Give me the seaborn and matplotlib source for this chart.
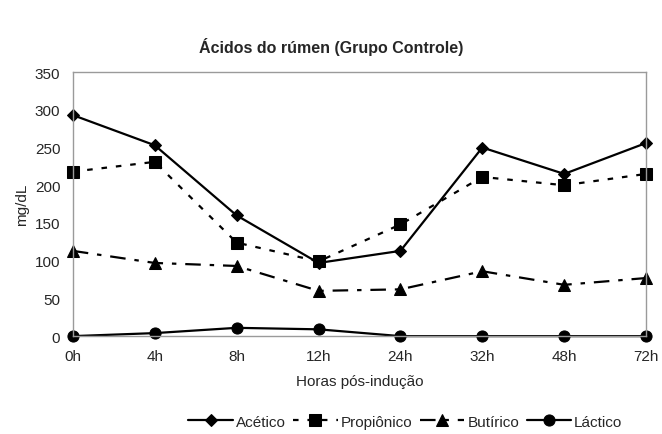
"""
Ácidos do rúmen (Grupo Controle)
"""
import pandas as pd
import matplotlib
matplotlib.use("Agg")
import matplotlib.pyplot as plt
import seaborn as sns

horas = ['0h', '4h', '8h', '12h', '24h', '32h', '48h', '72h']
acetico = [293, 253, 160, 97, 113, 250, 215, 256]
propionico = [218, 231, 124, 99, 148, 211, 200, 215]
butirico = [113, 97, 93, 60, 62, 86, 68, 77]
lactico = [0, 4, 11, 9, 0, 0, 0, 0]

series = {
    'Acético': acetico,
    'Propiônico': propionico,
    'Butírico': butirico,
    'Láctico': lactico,
}

# long format for seaborn
rows = []
for nome, vals in series.items():
    for i, (h, v) in enumerate(zip(horas, vals)):
        rows.append({'pos': i, 'hora': h, 'acido': nome, 'valor': v})
df = pd.DataFrame(rows)

sns.set_style("white")
plt.rcParams['font.family'] = ['Liberation Sans', 'DejaVu Sans']

estilos = {
    'Acético': dict(marker='D', markersize=6, dashes=None),
    'Propiônico': dict(marker='s', markersize=8, dashes=(0, (2.5, 4))),
    'Butírico': dict(marker='^', markersize=8, dashes=(0, (7, 4, 2, 4))),
    'Láctico': dict(marker='o', markersize=8, dashes=None),
}

fig = plt.figure(figsize=(6.62, 4.35), dpi=100)
ax = fig.add_axes([0.110, 0.225, 0.866, 0.607])

for nome in series:
    sub = df[df['acido'] == nome]
    st = estilos[nome]
    ls = '-' if st['dashes'] is None else st['dashes']
    sns.lineplot(data=sub, x='pos', y='valor', ax=ax, color='black',
                 linewidth=1.6, linestyle=ls, marker=st['marker'],
                 markersize=st['markersize'], markeredgecolor='black',
                 label=nome, clip_on=False)

ax.set_xlim(0, len(horas) - 1)
ax.set_ylim(0, 350)
ax.set_xticks(range(len(horas)))
ax.set_xticklabels(horas)
ax.set_yticks(range(0, 351, 50))
ax.tick_params(labelsize=11, length=0, pad=9)
ax.set_xlabel('Horas pós-indução', fontsize=11, labelpad=8)
ax.set_ylabel('mg/dL', fontsize=11, labelpad=4)
for s in ax.spines.values():
    s.set_color('#9a9a9a')
    s.set_linewidth(1)

fig.suptitle('Ácidos do rúmen (Grupo Controle)', fontsize=11.5,
             fontweight='bold', y=0.912)

ax.legend(loc='upper center', bbox_to_anchor=(0.58, -0.245), ncol=4,
          frameon=False, fontsize=11, handlelength=2.9, columnspacing=0.5,
          handletextpad=0.2)

fig.savefig('out.png', dpi=100)
